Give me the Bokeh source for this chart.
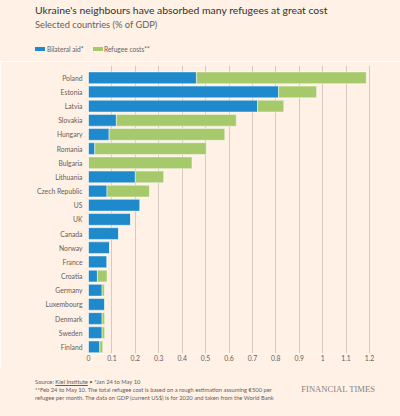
from bokeh.plotting import figure
from bokeh.models import ColumnDataSource, Range1d, FixedTicker, Div
from bokeh.layouts import column
from bokeh.embed import file_html
from bokeh.resources import INLINE

countries = ["Poland", "Estonia", "Latvia", "Slovakia", "Hungary", "Romania", "Bulgaria",
             "Lithuania", "Czech Republic", "US", "UK", "Canada", "Norway", "France",
             "Croatia", "Germany", "Luxembourg", "Denmark", "Sweden", "Finland"]
bilateral_aid = [0.461, 0.812, 0.722, 0.119, 0.088, 0.027, 0.0, 0.200, 0.079, 0.220,
                 0.180, 0.129, 0.090, 0.079, 0.038, 0.058, 0.069, 0.058, 0.058, 0.048]
refugee_costs = [0.725, 0.162, 0.112, 0.512, 0.494, 0.476, 0.442, 0.121, 0.181, 0.0,
                 0.0, 0.0, 0.0, 0.0, 0.041, 0.010, 0.002, 0.011, 0.011, 0.013]
series_names = ["Bilateral aid*", "Refugee costs**"]
x_ticks = [0, 0.1, 0.2, 0.3, 0.4, 0.5, 0.6, 0.7, 0.8, 0.9, 1.0, 1.1, 1.2]
x_tick_labels = ["0", "0.1", "0.2", "0.3", "0.4", "0.5", "0.6", "0.7", "0.8", "0.9", "1", "1.1", "1.2"]

title = "Ukraine's neighbours have absorbed many refugees at great cost"
subtitle = "Selected countries (% of GDP)"
notes = ["Source: <u>Kiel Institute</u> \u2022 *Jan 24 to May 10",
         "**Feb 24 to May 10. The total refugee cost is based on a rough estimation assuming \u20ac500 per",
         "refugee per month. The data on GDP (current US$) is for 2020 and taken from the World Bank"]
brand = "FINANCIAL TIMES"

BG = "#fff1e5"
BLUE = "#1f8acb"
GREEN = "#a6c96b"
GREY = "#66605c"
FONT = "Lato"
W = 400


def span(text, left, top, size, lh, color=GREY, font=FONT):
    return (f'<span style="position:absolute;left:{left}px;top:{top}px;font-family:{font};'
            f'font-size:{size}px;line-height:{lh}px;color:{color};white-space:nowrap;">{text}</span>')


def swatch(left, top, w, h, color):
    return (f'<span style="position:absolute;left:{left}px;top:{top}px;width:{w}px;height:{h}px;'
            f'background:{color};"></span>')


def box(content, h):
    return (f'<div style="position:relative;width:{W}px;height:{h}px;background:{BG};overflow:hidden;">'
            + content + '</div>')


# header
HH = 61
head_html = (span(title, 35, 3.5, 10.4, 12, color="#33302e")
             + span(subtitle, 35, 19, 9.3, 11)
             + swatch(35, 47, 10, 4, BLUE) + span(series_names[0], 47, 44.5, 6.6, 9)
             + swatch(92.5, 47, 10, 4, GREEN) + span(series_names[1], 104, 44.5, 6.6, 9))
head = Div(text=box(head_html, HH), width=W, height=HH, margin=(0, 0, 0, 0))

# main chart
ML, MR, MT, MB = 88, 28, 4, 14
FW, FH_ = W - ML - MR, 288
src = ColumnDataSource(dict(y=list(range(len(countries))), aid=bilateral_aid, ref=refugee_costs))
p = figure(frame_width=FW, frame_height=FH_, output_backend="svg", toolbar_location=None,
           x_range=Range1d(0, 1.2 * FW / 281), y_range=Range1d(19.47, -0.869), title=None,
           min_border_left=ML, min_border_right=MR, min_border_top=MT, min_border_bottom=MB,
           background_fill_color=BG, border_fill_color=BG, outline_line_color=None,
           margin=(0, 0, 0, 0))
p.hbar_stack(["aid", "ref"], y="y", height=0.83, color=[BLUE, GREEN], source=src,
             line_color="white", line_width=0.6, line_alpha=0.8)
p.xaxis.ticker = FixedTicker(ticks=x_ticks)
p.xaxis.major_label_overrides = {t: l for t, l in zip(x_ticks, x_tick_labels)}
p.yaxis.ticker = FixedTicker(ticks=list(range(len(countries))))
p.yaxis.major_label_overrides = {i: c for i, c in enumerate(countries)}
for ax in (p.xaxis, p.yaxis):
    ax.axis_line_color = None
    ax.major_tick_line_color = None
    ax.minor_tick_line_color = None
    ax.major_tick_out = 0
    ax.major_tick_in = 0
    ax.minor_tick_out = 0
    ax.minor_tick_in = 0
    ax.major_label_text_font = FONT
    ax.major_label_text_font_size = "6.8px"
    ax.major_label_text_color = GREY
p.xaxis.major_label_standoff = 1
p.yaxis.major_label_standoff = 6
p.ygrid.grid_line_color = None
p.xgrid.ticker = FixedTicker(ticks=x_ticks)
p.xgrid.grid_line_color = "#d6cbc1"
p.xgrid.grid_line_width = 1

# footer
FTH = 416 - HH - (MT + FH_ + MB)
foot_html = (span(notes[0], 35, 11.3, 5.8, 8)
             + span(notes[1], 35, 19, 5.8, 8)
             + span(notes[2], 35, 27, 5.8, 8)
             + f'<span style="position:absolute;right:25px;top:17px;font-family:Liberation Serif;'
               f'font-size:8.6px;line-height:10px;color:#8a827c;white-space:nowrap;">{brand}</span>')
foot = Div(text=box(foot_html, FTH), width=W, height=FTH, margin=(0, 0, 0, 0))

layout = column(head, p, foot, spacing=0, margin=(0, 0, 0, 0))
open("out.html", "w").write(file_html(layout, INLINE))
